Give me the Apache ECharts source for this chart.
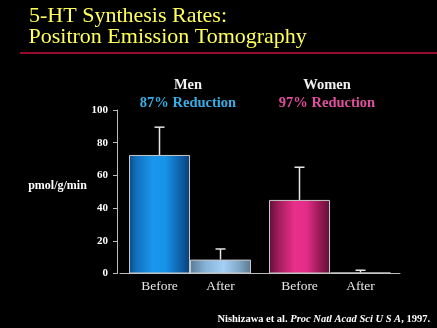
<!DOCTYPE html>
<html>
<head>
<meta charset="utf-8">
<script src="https://cdn.jsdelivr.net/npm/echarts@6/dist/echarts.min.js"></script>
<style>
html,body{margin:0;padding:0;background:#000;}
#c{width:437px;height:328px;}
</style>
</head>
<body>
<div id="c"></div>
<script>
// ---- data ----
const groups = ['Men', 'Women'];
const seriesNames = ['Before', 'After'];
const beforeValues = [72.5, 45];
const afterValues = [8.5, 0.6];
const beforeErrTop = [89.5, 65];
const afterErrTop = [15, 2];
const reductions = ['87% Reduction', '97% Reduction'];
const yTicks = [0, 20, 40, 60, 80, 100];

const SERIF = '"Liberation Serif","DejaVu Serif",serif';

function grad(stops) {
  return new echarts.graphic.LinearGradient(0, 0, 1, 0,
    stops.map((c) => ({offset: c[0], color: c[1]})));
}
const beforeFills = [
  grad([[0,'#0b4a86'],[0.12,'#1370be'],[0.4,'#1a98ee'],[0.6,'#1792e6'],[0.85,'#0e5ea6'],[1,'#0a3e74']]),
  grad([[0,'#5e0f3a'],[0.15,'#a01c58'],[0.42,'#ea2f8c'],[0.62,'#e22c88'],[0.85,'#921850'],[1,'#5e0f3a']])
];
const afterFills = [
  grad([[0,'#587a94'],[0.25,'#86b2d8'],[0.55,'#a4d0f6'],[0.8,'#82a8c8'],[1,'#587890']]),
  grad([[0,'#c02870'],[0.5,'#e8308c'],[1,'#c02870']])
];

const BAR_W = 61;

function errItem(off) {
  return function (params, api) {
    const c = api.coord([api.value(0), api.value(1)]);
    const t = api.coord([api.value(0), api.value(2)]);
    const x = c[0] + off;
    const st = {stroke: '#e6e6e6', lineWidth: 1.5};
    return {type: 'group', children: [
      {type: 'line', shape: {x1: x, y1: c[1], x2: x, y2: t[1]}, style: st},
      {type: 'line', shape: {x1: x - 5, y1: t[1], x2: x + 5, y2: t[1]}, style: st}
    ]};
  };
}

const chart = echarts.init(document.getElementById('c'));
chart.setOption({
  backgroundColor: '#000',
  animation: false,
  grid: {left: 120, right: 37, top: 110, bottom: 54.5},
  xAxis: {
    type: 'category',
    data: groups,
    boundaryGap: true,
    axisLine: {lineStyle: {color: '#bdbdbd', width: 1}},
    axisTick: {show: false},
    axisLabel: {show: false}
  },
  yAxis: {
    type: 'value',
    min: yTicks[0], max: yTicks[yTicks.length - 1], interval: 20,
    offset: 3,
    splitLine: {show: false},
    axisLine: {show: true, lineStyle: {color: '#bdbdbd', width: 1}},
    axisTick: {show: true, length: 4, lineStyle: {color: '#bdbdbd'}},
    axisLabel: {color: '#ffffff', fontFamily: SERIF, fontWeight: 'bold', fontSize: 11, margin: 9}
  },
  series: [
    {
      name: seriesNames[0], type: 'bar', barWidth: BAR_W, barGap: '0%',
      data: beforeValues.map((v, i) => ({value: v, itemStyle: {color: beforeFills[i]}})),
      itemStyle: {borderColor: '#c8c8c8', borderWidth: 1},
      label: {show: true, position: 'bottom', distance: 6, formatter: seriesNames[0],
        color: '#e8e8e8', fontFamily: SERIF, fontSize: 13.5}
    },
    {
      name: seriesNames[1], type: 'bar', barWidth: BAR_W, barGap: '0%',
      data: afterValues.map((v, i) => ({value: v, itemStyle: {color: afterFills[i]}})),
      itemStyle: {borderColor: '#c8c8c8', borderWidth: 1},
      label: {show: true, position: 'bottom', distance: 6, formatter: seriesNames[1],
        color: '#e8e8e8', fontFamily: SERIF, fontSize: 13.5}
    },
    {
      type: 'custom', renderItem: errItem(-BAR_W / 2), z: 5,
      data: beforeValues.map((v, i) => [i, v, beforeErrTop[i]])
    },
    {
      type: 'custom', renderItem: errItem(BAR_W / 2), z: 5,
      data: afterValues.map((v, i) => [i, v, afterErrTop[i]])
    }
  ],
  graphic: [
    {type: 'text', x: 29, y: 16, style: {text: '5-HT Synthesis Rates:', fill: '#ffff5a', font: '22px ' + SERIF, verticalAlign: 'middle'}},
    {type: 'text', x: 28.5, y: 37.5, style: {text: 'Positron Emission Tomography', fill: '#ffff5a', font: '22px ' + SERIF, verticalAlign: 'middle'}},
    {type: 'line', shape: {x1: 20, y1: 53, x2: 437, y2: 53}, style: {stroke: '#c8103f', lineWidth: 1.6}},
    {type: 'text', x: 188, y: 85.5, style: {text: groups[0], fill: '#f0f0f0', font: 'bold 14.5px ' + SERIF, align: 'center', verticalAlign: 'middle'}},
    {type: 'text', x: 188, y: 103, style: {text: reductions[0], fill: '#38aee6', font: 'bold 14.5px ' + SERIF, align: 'center', verticalAlign: 'middle'}},
    {type: 'text', x: 327, y: 85.5, style: {text: groups[1], fill: '#f0f0f0', font: 'bold 14.5px ' + SERIF, align: 'center', verticalAlign: 'middle'}},
    {type: 'text', x: 327, y: 103, style: {text: reductions[1], fill: '#e0509c', font: 'bold 14.5px ' + SERIF, align: 'center', verticalAlign: 'middle'}},
    {type: 'text', x: 57.5, y: 186, style: {text: 'pmol/g/min', fill: '#ffffff', font: 'bold 12px ' + SERIF, align: 'center', verticalAlign: 'middle'}},
    {type: 'text', x: 430, y: 319.5, style: {
      text: '{a|Nishizawa et al. }{b|Proc Natl Acad Sci U S A}{a|, 1997.}',
      align: 'right', verticalAlign: 'middle',
      rich: {
        a: {fill: '#ffffff', fontFamily: SERIF, fontWeight: 'bold', fontSize: 10.5},
        b: {fill: '#ffffff', fontFamily: SERIF, fontWeight: 'bold', fontStyle: 'italic', fontSize: 10.5}
      }
    }}
  ]
});
</script>
</body>
</html>
